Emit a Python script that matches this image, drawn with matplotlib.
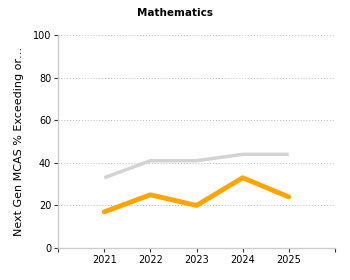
import matplotlib
matplotlib.use("Agg")
from matplotlib import pyplot as plt

years = [2021, 2022, 2023, 2024, 2025]
state = [33, 41, 41, 44, 44]
school = [17, 25, 20, 33, 24]

plt.rcParams['font.family'] = ['DejaVu Sans']
fig = plt.figure(figsize=(3.5, 2.8), dpi=100)
ax = fig.add_axes([0.166, 0.114, 0.791, 0.761])

ax.plot(years, state, color='#d3d3d3', linewidth=2.5, solid_capstyle='butt')
ax.plot(years, school, color='#ffa500', linewidth=3.5, solid_capstyle='round')

ax.set_xlim(2020, 2026)
ax.set_ylim(0, 100)
ax.set_xticks([2020] + years + [2026])
ax.set_xticklabels([''] + [str(y) for y in years] + [''])
ax.set_yticks([0, 20, 40, 60, 80, 100])
ax.tick_params(axis='both', labelsize=7, length=3, width=0.8, color='#333333', pad=2)
ax.grid(True, axis='y', linestyle=(0, (1, 2)), color='#bbbbbb', linewidth=0.7)
ax.set_axisbelow(True)
for s in ['top', 'right']:
    ax.spines[s].set_visible(False)
for s in ['left', 'bottom']:
    ax.spines[s].set_color('#cccccc')
    ax.spines[s].set_linewidth(1)

ax.set_ylabel('Next Gen MCAS % Exceeding or\u2026', fontsize=8, labelpad=6)
fig.text(0.5, 0.955, 'Mathematics', ha='center', va='center', fontsize=7.5, fontweight='bold')

fig.savefig('out.png', dpi=100)
